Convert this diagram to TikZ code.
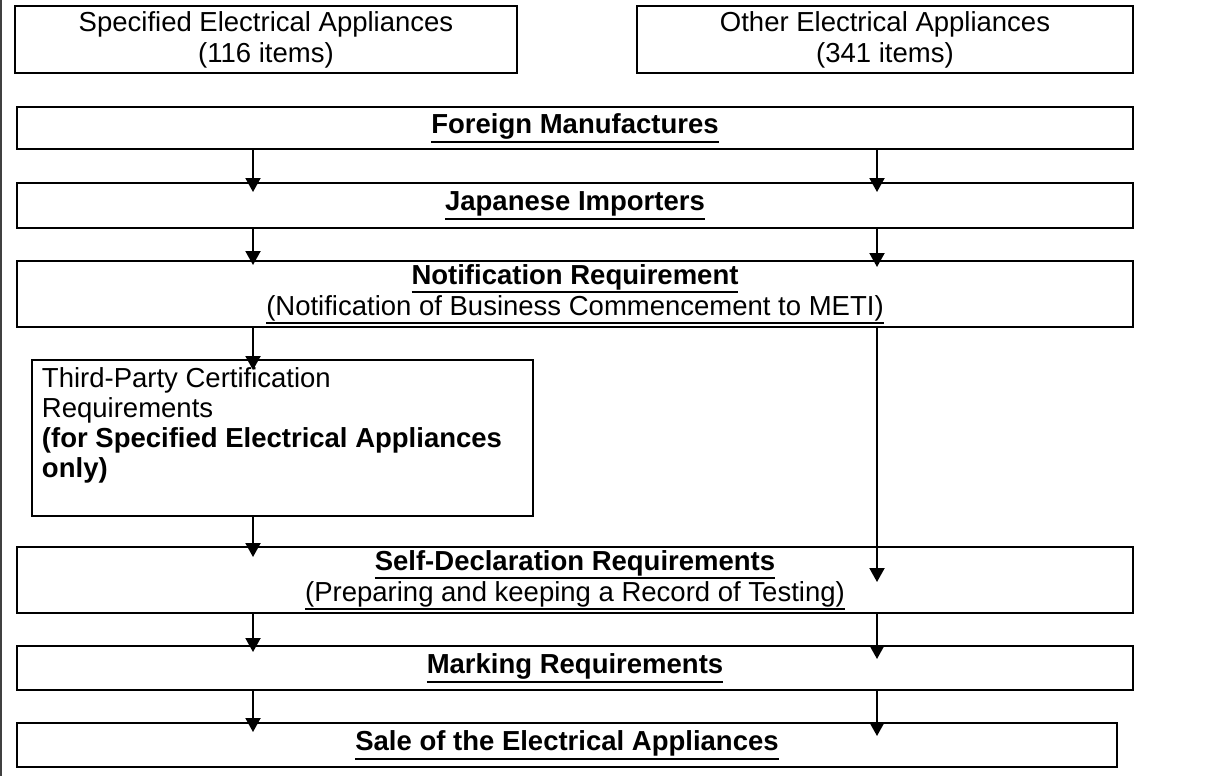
\documentclass[tikz,border=0pt]{standalone}
\usepackage{fontspec}
\setmainfont{Liberation Sans}
\usetikzlibrary{arrows.meta}

% underline with a chosen rule thickness, set just below the descenders
\newcommand{\ultext}[2][0.5pt]{\leavevmode\setbox0=\hbox{#2}\rlap{\rule[\dimexpr-\dp0-0.6pt-#1\relax]{\wd0}{#1}}\box0}
\newcommand{\ulhead}[1]{\ultext[0.8pt]{\textbf{#1}}}

\tikzset{
	catbox/.style={draw, line width=0.8pt, align=center, inner sep=0pt, minimum height=26.8pt},
	stepbox/.style={draw, line width=0.8pt, align=center, inner sep=0pt, minimum width=446.4pt},
	flow/.style={line width=0.8pt, -{Triangle[width=6pt,length=5.6pt]}},
}

\begin{document}
\begin{tikzpicture}[x=0.4pt, y=-0.4pt, font=\fontsize{11}{12.4}\selectfont]
	\useasboundingbox (0,0) rectangle (1207,776);
	\draw [black!75, line width=0.8pt] (1,0) -- (1,776);

	\node (spec) at (266,39.5) [catbox, minimum width=200.8pt] {Specified Electrical Appliances\\(116 items)};
	\node (other) at (885,39.5) [catbox, minimum width=198.4pt] {Other Electrical Appliances\\(341 items)};

	\node (maker) at (575,128) [stepbox, minimum height=16.8pt] {\ulhead{Foreign Manufactures}};
	\node (import) at (575,205.5) [stepbox, minimum height=18pt] {\ulhead{Japanese Importers}};
	\node (notif) at (575,294) [stepbox, minimum height=26.4pt] {\ulhead{Notification Requirement}\\\ultext{(Notification of Business Commencement to METI)}};

	\node (third) at (31,359) [anchor=north west, draw, line width=0.8pt, inner xsep=4pt, inner ysep=3pt] {\parbox[t][56.4pt][t]{192.4pt}{\fontsize{11}{12}\selectfont Third-Party Certification\\Requirements\\\textbf{(for Specified Electrical Appliances\\only)}}};

	\node (selfdec) at (575,580) [stepbox, minimum height=26.4pt] {\ulhead{Self-Declaration Requirements}\\\ultext{(Preparing and keeping a Record of Testing)}};
	\node (marking) at (575,668) [stepbox, minimum height=17.6pt] {\ulhead{Marking Requirements}};
	\node (sale) at (567,745) [stepbox, minimum width=440pt, minimum height=17.6pt] {\ulhead{Sale of the Electrical Appliances}};

	\coordinate (lx) at (253,0);
	\coordinate (rx) at (877,0);

	\draw [flow, shorten >=-4pt] (maker.south -| lx) -- (import.north -| lx);
	\draw [flow, shorten >=-2pt] (import.south -| lx) -- (notif.north -| lx);
	\draw [flow, shorten >=-4.4pt] (notif.south -| lx) -- (third.north -| lx);
	\draw [flow, shorten >=-4.4pt] (third.south -| lx) -- (selfdec.north -| lx);
	\draw [flow, shorten >=-2.8pt] (selfdec.south -| lx) -- (marking.north -| lx);
	\draw [flow, shorten >=-4pt] (marking.south -| lx) -- (sale.north -| lx);

	\draw [flow, shorten >=-4pt] (maker.south -| rx) -- (import.north -| rx);
	\draw [flow, shorten >=-2.8pt] (import.south -| rx) -- (notif.north -| rx);
	\draw [flow, shorten >=-14.4pt] (notif.south -| rx) -- (selfdec.north -| rx);
	\draw [flow, shorten >=-5.6pt] (selfdec.south -| rx) -- (marking.north -| rx);
	\draw [flow, shorten >=-5.6pt] (marking.south -| rx) -- (sale.north -| rx);
\end{tikzpicture}
\end{document}
